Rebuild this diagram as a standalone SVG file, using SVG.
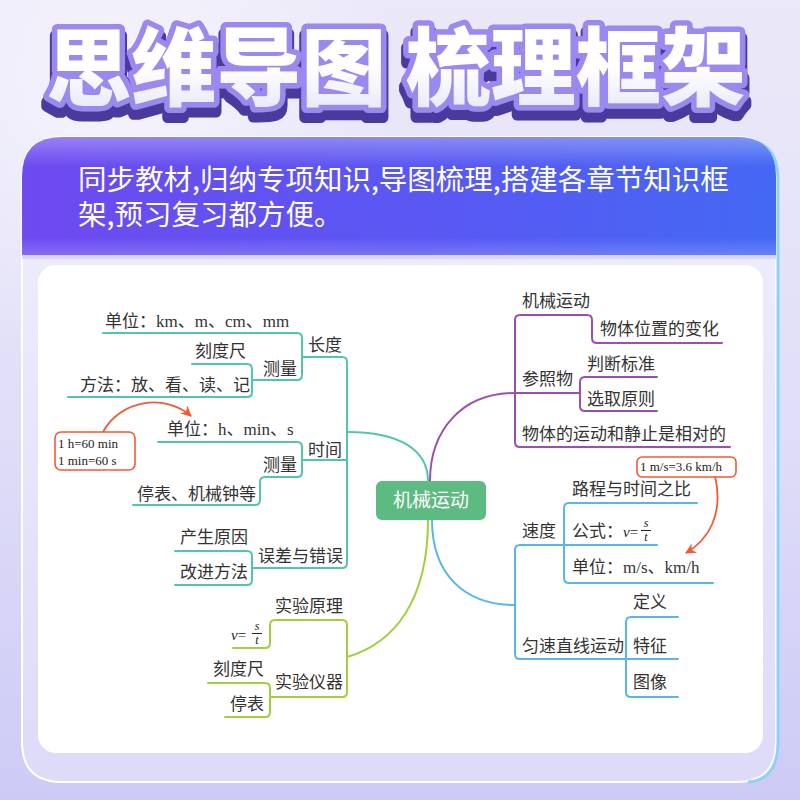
<svg xmlns="http://www.w3.org/2000/svg" width="800" height="800" viewBox="0 0 800 800">
<defs>
<linearGradient id="bg" x1="0" y1="0" x2="0" y2="1">
<stop offset="0" stop-color="#ebe9f8"/><stop offset="0.5" stop-color="#e1dff8"/><stop offset="1" stop-color="#cdcaf6"/>
</linearGradient>
<radialGradient id="glow" cx="0.15" cy="0.12" r="0.35">
<stop offset="0" stop-color="#f6f5fd" stop-opacity="0.9"/><stop offset="1" stop-color="#f6f5fd" stop-opacity="0"/>
</radialGradient>
<linearGradient id="banner" x1="0" y1="0" x2="1" y2="0">
<stop offset="0" stop-color="#6e4af0"/><stop offset="0.55" stop-color="#5958f2"/><stop offset="1" stop-color="#4468f4"/>
</linearGradient>
<linearGradient id="gloss" x1="0" y1="0" x2="0" y2="1">
<stop offset="0" stop-color="#fff" stop-opacity="0.3"/><stop offset="0.25" stop-color="#fff" stop-opacity="0"/><stop offset="0.85" stop-color="#fff" stop-opacity="0"/><stop offset="1" stop-color="#fff" stop-opacity="0.18"/>
</linearGradient>
<linearGradient id="body" x1="0" y1="0" x2="0" y2="1">
<stop offset="0" stop-color="#f0effc"/><stop offset="1" stop-color="#dddbf8"/>
</linearGradient>
<linearGradient id="titleFill" x1="0" y1="0" x2="0" y2="1">
<stop offset="0.55" stop-color="#ffffff"/><stop offset="1" stop-color="#dfe2fb"/>
</linearGradient>
<filter id="extrude" x="-5%" y="-20%" width="110%" height="150%">
<feMorphology in="SourceAlpha" operator="dilate" radius="2" result="d"/>
<feOffset in="d" dy="8" result="o"/>
<feFlood flood-color="#4a3a9e"/>
<feComposite in2="o" operator="in" result="sh"/>
<feMerge><feMergeNode in="sh"/><feMergeNode in="SourceGraphic"/></feMerge>
</filter>
<marker id="arr" viewBox="0 0 10 10" refX="9" refY="5" markerWidth="6" markerHeight="6" orient="auto"><path d="M0,0 L10,5 L0,10 L3,5 z" fill="#f05a36"/></marker>
<style>
.t{font-family:"Noto Sans CJK SC","Noto Sans",sans-serif;font-size:17px;fill:#333;}
.s{font-family:"Liberation Serif","Noto Sans CJK SC",serif;}
.m{font-family:"Liberation Serif",serif;fill:#222;}
.ln{fill:none;stroke-width:2;stroke-linecap:round;stroke-linejoin:round;}
.teal{stroke:#52c6ad;}
.lime{stroke:#a3cf3e;}
.pur{stroke:#9c4fae;}
.blue{stroke:#5ab6e8;}
.red{fill:#fff;stroke:#f05a36;stroke-width:1.6;}
.ttl{font-family:"Noto Sans CJK SC","Noto Sans",sans-serif;font-weight:900;font-size:85px;text-anchor:middle;}
.ban{font-family:"Noto Sans CJK SC","Noto Sans",sans-serif;font-size:28.5px;fill:#fff;}
</style>
</defs>
<rect width="800" height="800" fill="url(#bg)"/>
<rect width="800" height="800" fill="url(#glow)"/>

<g id="title">
<text class="ttl" x="396" y="99" fill="url(#titleFill)" stroke="#9a89ee" stroke-width="11" stroke-linejoin="round" paint-order="stroke" filter="url(#extrude)">思维导图 梳理框架</text>
</g>

<g id="card">
<path d="M62,137 H736 Q776,137 776,177 V742 Q776,782 736,782 H62 Q22,782 22,742 V177 Q22,137 62,137 Z" fill="url(#body)" stroke="#fff" stroke-width="2"/>
<path d="M738,139 Q778,139 778,179 V742 Q778,780 748,782" fill="none" stroke="#8ed3f6" stroke-width="3"/>
<path d="M62,137 H736 Q776,137 776,177 V255 H22 V177 Q22,137 62,137 Z" fill="url(#banner)"/>
<path d="M62,137 H736 Q776,137 776,177 V255 H22 V177 Q22,137 62,137 Z" fill="url(#gloss)"/>
<rect x="22" y="255" width="754" height="4" fill="#d8d5f7"/>
<rect x="38" y="265" width="725" height="488" rx="18" fill="#fff"/>
<text class="ban" x="78" y="190">同步教材,归纳专项知识,导图梳理,搭建各章节知识框</text>
<text class="ban" x="78" y="225">架,预习复习都方便。</text>
</g>

<g id="connectors">
<path class="ln teal" d="M347,432 C400,432 428,450 428,481"/>
<path class="ln pur" d="M430,481 C430,430 462,393 515,393"/>
<path class="ln blue" d="M432,520 C432,575 465,605 515,605"/>
<path class="ln lime" d="M428,520 C428,600 395,643 347,657"/>
<path class="ln teal" d="M103,333 H297 Q302,333 302,338 V375 Q302,380 297,380 H252"/>
<path class="ln teal" d="M192,364 H247 Q252,364 252,369 V392 Q252,397 247,397 H68"/>
<path class="ln teal" d="M302,357 H342 Q347,357 347,362 V563 Q347,568 342,568 H252"/>
<path class="ln teal" d="M158,442 H297 Q302,442 302,447 V472 Q302,477 297,477 H265 Q260,477 260,482 V500 Q260,505 255,505 H133"/>
<path class="ln teal" d="M302,460 H347"/>
<path class="ln teal" d="M175,551 H247 Q252,551 252,556 V580 Q252,585 247,585 H175"/>
<path class="ln lime" d="M233,648 H265 Q270,648 270,643 V625 Q270,620 275,620 H342 Q347,620 347,625 V692 Q347,697 342,697 H270"/>
<path class="ln lime" d="M208,683 H265 Q270,683 270,688 V712 Q270,717 265,717 H225"/>
<path class="ln pur" d="M730,447 H520 Q515,447 515,442 V320 Q515,315 520,315 H587 Q592,315 592,320 V338 Q592,343 597,343 H722"/>
<path class="ln pur" d="M515,393 H580"/>
<path class="ln pur" d="M657,377 H585 Q580,377 580,382 V406 Q580,411 585,411 H657"/>
<path class="ln blue" d="M657,545 H520 Q515,545 515,550 V654 Q515,659 520,659 H678"/>
<path class="ln blue" d="M697,503 H569 Q564,503 564,508 V578 Q564,583 569,583 H713"/>
<path class="ln blue" d="M678,617 H631 Q626,617 626,622 V692 Q626,697 631,697 H678"/>
<path d="M103,432 C120,400 165,393 191,416" fill="none" stroke="#f05a36" stroke-width="1.8" marker-end="url(#arr)"/>
<path d="M715,476 C724,515 708,540 686,553" fill="none" stroke="#f05a36" stroke-width="1.8" marker-end="url(#arr)"/>
</g>

<g id="center">
<rect x="376" y="481" width="110" height="39" rx="6" fill="#5dba80"/>
<text x="431" y="507" text-anchor="middle" font-family="Noto Sans CJK SC, sans-serif" font-size="19" fill="#fff">机械运动</text>
</g>

<g id="n-length"><text class="t" x="308" y="351">长度</text></g>
<g id="n-length-unit"><text class="t" x="105" y="327">单位：<tspan class="s">km</tspan>、<tspan class="s">m</tspan>、<tspan class="s">cm</tspan>、<tspan class="s">mm</tspan></text></g>
<g id="n-length-measure"><text class="t" x="263" y="375">测量</text></g>
<g id="n-ruler"><text class="t" x="195" y="357">刻度尺</text></g>
<g id="n-method"><text class="t" x="80" y="391">方法：放、看、读、记</text></g>
<g id="n-time"><text class="t" x="308" y="456">时间</text></g>
<g id="n-time-unit"><text class="t" x="167" y="435">单位：<tspan class="s">h</tspan>、<tspan class="s">min</tspan>、<tspan class="s">s</tspan></text></g>
<g id="n-time-measure"><text class="t" x="263" y="471">测量</text></g>
<g id="n-clock"><text class="t" x="137" y="500">停表、机械钟等</text></g>
<g id="n-error"><text class="t" x="258" y="562">误差与错误</text></g>
<g id="n-cause"><text class="t" x="180" y="543">产生原因</text></g>
<g id="n-improve"><text class="t" x="180" y="578">改进方法</text></g>

<g id="n-principle"><text class="t" x="275" y="612">实验原理</text></g>
<g id="n-formula-left">
<text class="m" x="231" y="640" font-size="15"><tspan font-style="italic">v</tspan>=</text>
<text class="m" x="257" y="630" font-size="12" font-style="italic" text-anchor="middle">s</text>
<path d="M252,633.5 H262" stroke="#222" stroke-width="1"/>
<text class="m" x="257" y="644" font-size="12" font-style="italic" text-anchor="middle">t</text>
</g>
<g id="n-instrument"><text class="t" x="275" y="688">实验仪器</text></g>
<g id="n-ruler2"><text class="t" x="213" y="675">刻度尺</text></g>
<g id="n-stopwatch"><text class="t" x="230" y="710">停表</text></g>

<g id="n-motion"><text class="t" x="522" y="307">机械运动</text></g>
<g id="n-position"><text class="t" x="600" y="335">物体位置的变化</text></g>
<g id="n-reference"><text class="t" x="522" y="385">参照物</text></g>
<g id="n-standard"><text class="t" x="587" y="370">判断标准</text></g>
<g id="n-choose"><text class="t" x="587" y="405">选取原则</text></g>
<g id="n-relative"><text class="t" x="522" y="440">物体的运动和静止是相对的</text></g>

<g id="n-speed"><text class="t" x="522" y="537">速度</text></g>
<g id="n-ratio"><text class="t" x="572" y="495">路程与时间之比</text></g>
<g id="n-formula-right">
<text class="t" x="572" y="537">公式：<tspan class="s" font-size="15" font-style="italic" fill="#222">v</tspan><tspan class="s" font-size="15" fill="#222">=</tspan></text>
<text class="m" x="646" y="527" font-size="12" font-style="italic" text-anchor="middle">s</text>
<path d="M641,530.5 H651" stroke="#222" stroke-width="1"/>
<text class="m" x="646" y="541" font-size="12" font-style="italic" text-anchor="middle">t</text>
</g>
<g id="n-speed-unit"><text class="t" x="572" y="573">单位：<tspan class="s">m/s</tspan>、<tspan class="s">km/h</tspan></text></g>
<g id="n-uniform"><text class="t" x="522" y="652">匀速直线运动</text></g>
<g id="n-def"><text class="t" x="633" y="608">定义</text></g>
<g id="n-feature"><text class="t" x="633" y="652">特征</text></g>
<g id="n-graph"><text class="t" x="633" y="688">图像</text></g>

<g id="note-time">
<rect class="red" x="55" y="432" width="80" height="38" rx="6"/>
<text class="m" x="58" y="448" font-size="13">1 h=60 min</text>
<text class="m" x="58" y="465" font-size="13">1 min=60 s</text>
</g>
<g id="note-speed">
<rect class="red" x="637" y="457" width="99" height="20" rx="5"/>
<text class="m" x="640" y="471" font-size="13">1 m/s=3.6 km/h</text>
</g>
</svg>
